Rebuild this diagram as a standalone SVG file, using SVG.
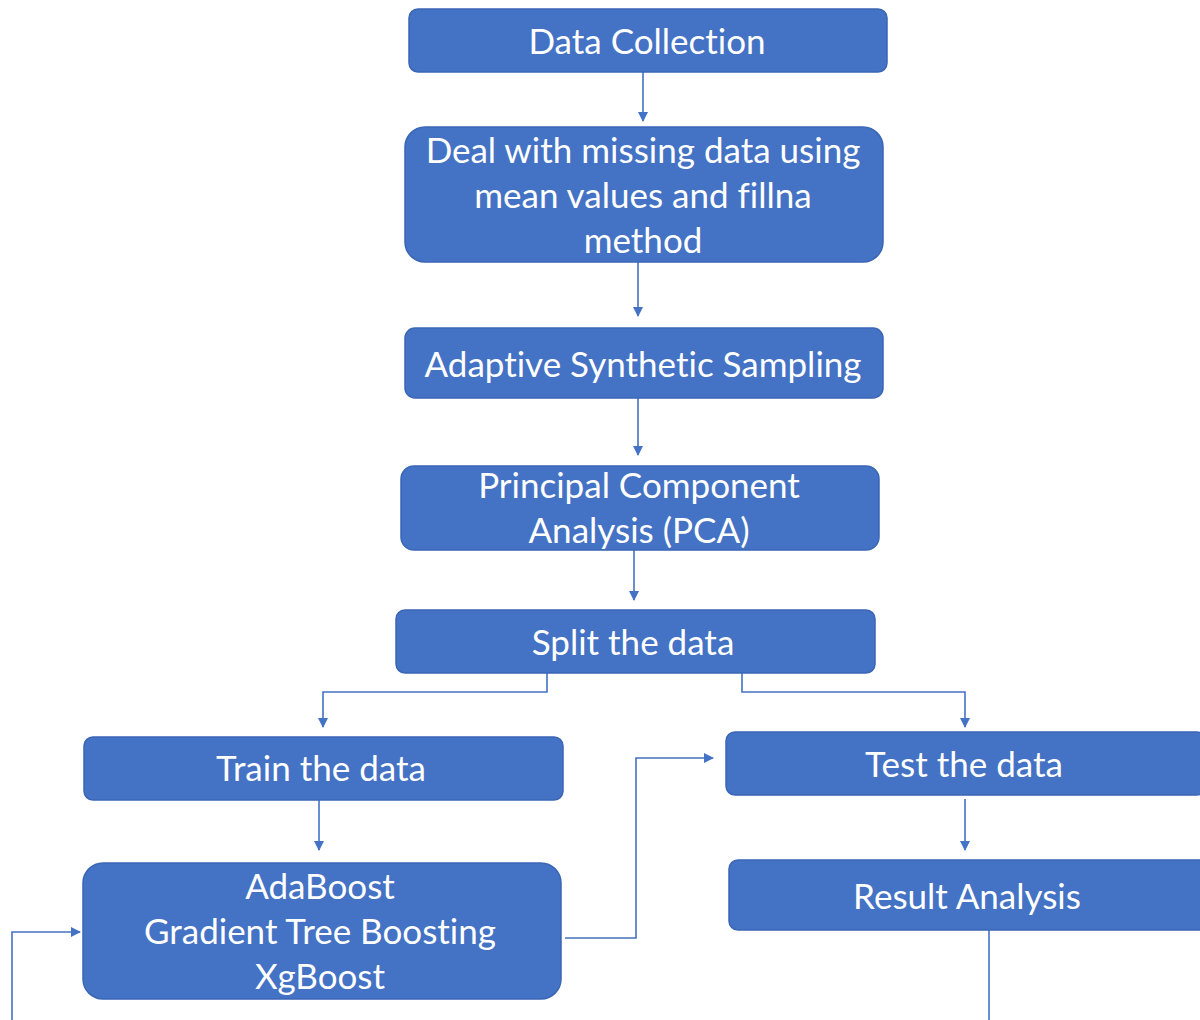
<svg xmlns="http://www.w3.org/2000/svg" width="1200" height="1020" viewBox="0 0 1200 1020">
<defs>
<marker id="ah" markerWidth="10" markerHeight="10" refX="9" refY="5" orient="auto" markerUnits="userSpaceOnUse">
<path d="M0,0 L10,5 L0,10 Z" fill="#4472C4"/>
</marker>
<style>
.box{fill:#4472C4;stroke:#3A66B5;stroke-width:1.5}
.t{font-family:Lato,"Liberation Sans",sans-serif;font-size:35px;fill:#ffffff;text-anchor:middle;dominant-baseline:central;font-variant-ligatures:none}
.c{fill:none;stroke:#4472C4;stroke-width:1.6}
</style>
</defs>
<rect width="1200" height="1020" fill="#ffffff"/>
<g id="connectors">
<path class="c" d="M643,72 V121" marker-end="url(#ah)"/>
<path class="c" d="M638,262 V316" marker-end="url(#ah)"/>
<path class="c" d="M638,398 V455" marker-end="url(#ah)"/>
<path class="c" d="M634,550 V600" marker-end="url(#ah)"/>
<path class="c" d="M547,673 V692 H323 V727" marker-end="url(#ah)"/>
<path class="c" d="M742,673 V692 H965 V727" marker-end="url(#ah)"/>
<path class="c" d="M319,800 V850" marker-end="url(#ah)"/>
<path class="c" d="M965,799 V850" marker-end="url(#ah)"/>
<path class="c" d="M565,938 H636 V758 H713" marker-end="url(#ah)"/>
<path class="c" d="M989,930 V1020"/>
<path class="c" d="M12,1020 V932 H80" marker-end="url(#ah)"/>
</g>
<g id="n1"><rect class="box" x="409" y="9" width="478" height="63" rx="9"/><text class="t" x="647" y="40">Data Collection</text></g>
<g id="n2"><rect class="box" x="405" y="127" width="478" height="135" rx="20"/><text class="t" x="643" y="149">Deal with missing data using</text><text class="t" x="643" y="194">mean values and fillna</text><text class="t" x="643" y="239">method</text></g>
<g id="n3"><rect class="box" x="405" y="328" width="478" height="70" rx="10"/><text class="t" x="643" y="363">Adaptive Synthetic Sampling</text></g>
<g id="n4"><rect class="box" x="401" y="466" width="478" height="84" rx="13"/><text class="t" x="639" y="484">Principal Component</text><text class="t" x="639" y="529">Analysis (PCA)</text></g>
<g id="n5"><rect class="box" x="396" y="610" width="479" height="63" rx="9"/><text class="t" x="633" y="641">Split the data</text></g>
<g id="n6"><rect class="box" x="84" y="737" width="479" height="63" rx="9"/><text class="t" x="321" y="767">Train the data</text></g>
<g id="n7"><rect class="box" x="83" y="863" width="478" height="136" rx="20"/><text class="t" x="320" y="885">AdaBoost</text><text class="t" x="320" y="930">Gradient Tree Boosting</text><text class="t" x="320" y="975">XgBoost</text></g>
<g id="n8"><rect class="box" x="726" y="732" width="480" height="63" rx="9"/><text class="t" x="964" y="763">Test the data</text></g>
<g id="n9"><rect class="box" x="729" y="860" width="480" height="70" rx="9"/><text class="t" x="967" y="895">Result Analysis</text></g>
</svg>
